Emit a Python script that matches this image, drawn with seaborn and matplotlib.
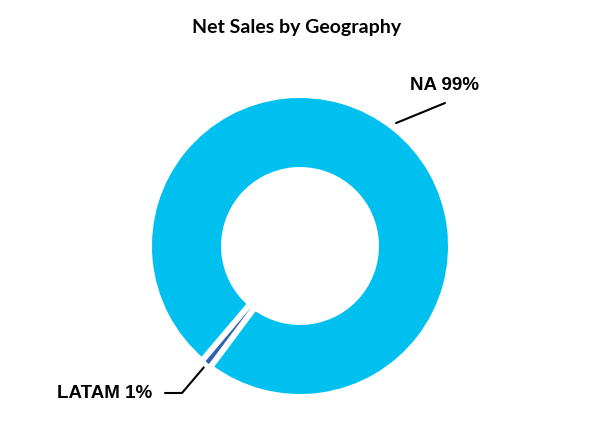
"""
Net sales by geography donut chart
"""

import numpy as np
import matplotlib
matplotlib.use('Agg')
import matplotlib.pyplot as plt
import seaborn as sns

regions = ['NA', 'LATAM']
shares = [99, 1]
region_colors = ['#00C0F0', '#2F62AE']
title = 'Net Sales by Geography'

sns.set_theme(style='white')
plt.rcParams['font.family'] = ['Liberation Sans', 'DejaVu Sans']

fig = plt.figure(figsize=(6, 4.38), dpi=100)
ax = fig.add_axes([0, 0, 1, 1])

# donut, LATAM sliver sits at the lower left
center = (300, 192)
radius = 151.5
start = 233.3
wedges, _ = ax.pie(shares, colors=region_colors, startangle=start,
                   center=center, radius=radius, frame=True,
                   wedgeprops=dict(width=76, edgecolor='white', linewidth=5))
# thinner stroke on the small slice so it stays visible
wedges[1].set_linewidth(3.5)
ax.set_xlim(0, 600)
ax.set_ylim(0, 438)
ax.set_aspect('equal')
ax.axis('off')

# leader lines and labels
na_ang = np.deg2rad(52)
p0 = (center[0] + 156 * np.cos(na_ang), center[1] + 156 * np.sin(na_ang))
ax.plot([p0[0], 445], [p0[1], 335], color='black', lw=1.5)
ax.text(444, 353, f'{regions[0]} {shares[0]}%', ha='center', va='center',
        fontsize=13.5, fontweight='bold', color='black')

la_ang = np.deg2rad(231.6)
p1 = (center[0] + 155 * np.cos(la_ang), center[1] + 155 * np.sin(la_ang))
ax.plot([p1[0], 182, 165], [p1[1], 45, 45], color='black', lw=1.5)
ax.text(152, 45, f'{regions[1]} {shares[1]}%', ha='right', va='center',
        fontsize=13.5, fontweight='bold', color='black')

ax.text(297, 410, title, ha='center', va='center', fontsize=14,
        fontweight='bold', family=['Lato', 'DejaVu Sans'], color='black')

fig.savefig('out.png', dpi=100)
